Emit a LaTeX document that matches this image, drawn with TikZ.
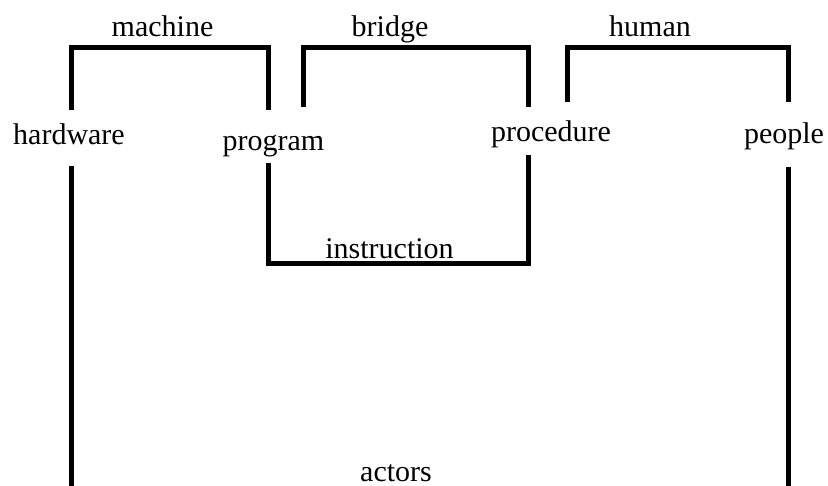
\documentclass[tikz,border=0pt]{standalone}
\usepackage{fontspec}
\setmainfont{Liberation Serif}
\begin{document}
\begin{tikzpicture}[x=1pt,y=-1pt,
  lbl/.style={font=\fontsize{30}{36}\selectfont, inner sep=0pt, anchor=base},
  link/.style={line width=5pt, line join=miter, line cap=butt}]
\useasboundingbox (0,0) rectangle (828,486);
\clip (0,0) rectangle (828,486);
% term nodes
\node[lbl] (hardware) at (69,145) {hardware};
\node[lbl] (program) at (273.5,150.5) {program};
\node[lbl] (procedure) at (551,141.5) {procedure};
\node[lbl] (people) at (784,143.5) {people};
% relation labels
\node[lbl] (machine) at (162.5,36.5) {machine};
\node[lbl] (bridge) at (390,36.5) {bridge};
\node[lbl] (human) at (650,36.5) {human};
\node[lbl] (instruction) at (389.5,258.5) {instruction};
\node[lbl] (actors) at (396,481) {actors};
% bracket levels
\coordinate (top) at (0,48);
\coordinate (instr) at (0,264);
\coordinate (bottom) at (0,486);
% line ends
\coordinate (hwT) at (71.7,110);
\coordinate (hwB) at (71.7,166);
\coordinate (prT) at (268,110);
\coordinate (prT2) at (303,107);
\coordinate (prB) at (268,163);
\coordinate (pcT) at (528.5,107);
\coordinate (pcT2) at (567,102);
\coordinate (pcB) at (528.5,155);
\coordinate (peT) at (788,102);
\coordinate (peB) at (788,167);
% brackets
\draw[link] (hwT) -- (hwT |- top) -- (prT |- top) -- (prT);
\draw[link] (prT2) -- (prT2 |- top) -- (pcT |- top) -- (pcT);
\draw[link] (pcT2) -- (pcT2 |- top) -- (peT |- top) -- (peT);
\draw[link] (prB) -- (prB |- instr) -- (pcB |- instr) -- (pcB);
\draw[link] (hwB) -- (hwB |- bottom);
\draw[link] (peB) -- (peB |- bottom);
\end{tikzpicture}
\end{document}
